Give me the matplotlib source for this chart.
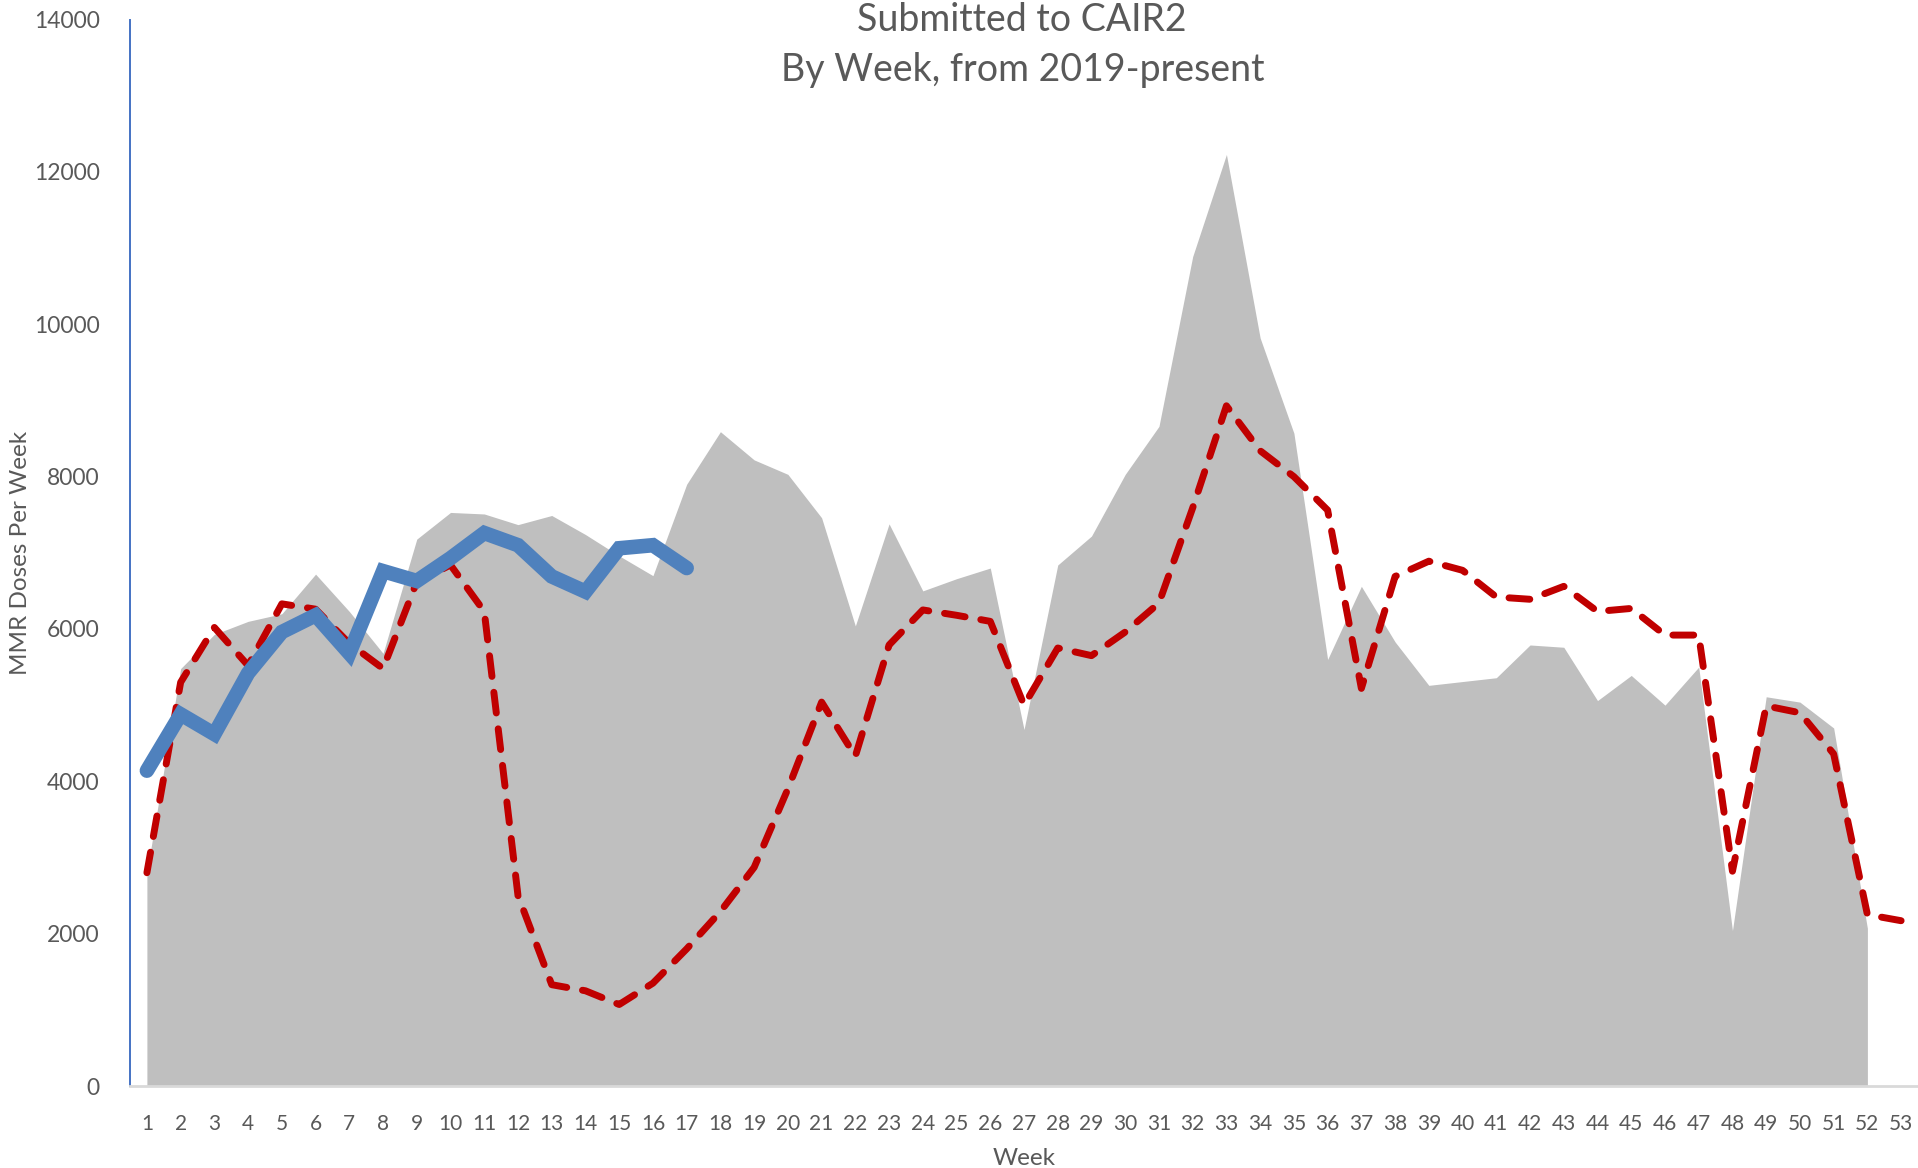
import matplotlib.pyplot as plt
import numpy as np

# weeks on the x axis
weeks = np.arange(1, 54)

# gray area series (weeks 1-52)
area_vals = [2800, 5480, 5930, 6100, 6200, 6720, 6230, 5680, 7180, 7530,
             7510, 7370, 7490, 7240, 6960, 6700, 7900, 8590, 8220, 8030,
             7460, 6040, 7380, 6500, 6660, 6800, 4680, 6840, 7220, 8030,
             8660, 10890, 12230, 9820, 8570, 5600, 6560, 5830, 5260, 5310,
             5360, 5790, 5760, 5060, 5390, 5000, 5500, 2040, 5110, 5040,
             4700, 2070]

# red dashed series (weeks 1-53)
red_vals = [2800, 5300, 6020, 5520, 6330, 6260, 5810, 5480, 6620, 6840,
            6230, 2500, 1330, 1250, 1070, 1350, 1800, 2290, 2870, 3900,
            5040, 4330, 5790, 6250, 6180, 6100, 5000, 5750, 5650, 5960,
            6340, 7590, 8930, 8340, 8000, 7560, 5220, 6690, 6890, 6770,
            6420, 6390, 6560, 6230, 6270, 5920, 5920, 2820, 4990, 4900,
            4360, 2250, 2170]

# blue series (weeks 1-17)
blue_vals = [4140, 4880, 4620, 5420, 5960, 6180, 5680, 6760, 6630, 6930,
             7260, 7100, 6690, 6490, 7060, 7100, 6800]

text_color = '#595959'
plt.rcParams['font.family'] = ['Lato', 'DejaVu Sans']

fig = plt.figure(figsize=(19.18, 11.68), dpi=100)
ax = fig.add_axes([0.0678, 0.0702, 0.9322, 0.913])

# gray filled area
ax.fill_between(weeks[:len(area_vals)], area_vals, 0, color='#BFBFBF',
                linewidth=0, zorder=1)

# red dashed line
ax.plot(weeks[:len(red_vals)], red_vals, color='#C00000', linewidth=5,
        linestyle=(0, (3.0, 2.3)), dash_capstyle='round', zorder=2)

# blue thick line
ax.plot(weeks[:len(blue_vals)], blue_vals, color='#4F81BD', linewidth=10.5,
        solid_capstyle='round', solid_joinstyle='miter', zorder=3)

ax.set_xlim(0.5, 53.5)
ax.set_ylim(0, 14000)
ax.set_xticks(weeks)
ax.set_xticklabels([str(w) for w in weeks])
ax.set_yticks(np.arange(0, 14001, 2000))

ax.tick_params(axis='x', length=0, pad=20, labelsize=15, labelcolor=text_color)
ax.tick_params(axis='y', length=0, pad=22, labelsize=16.5, labelcolor=text_color)

for side in ['top', 'right']:
    ax.spines[side].set_visible(False)
ax.spines['left'].set_color('#4472C4')
ax.spines['left'].set_linewidth(1.4)
ax.spines['bottom'].set_color('#D9D9D9')
ax.spines['bottom'].set_linewidth(2)

ax.set_xlabel('Week', fontsize=17.5, color=text_color, labelpad=10)
ax.set_ylabel('MMR Doses Per Week', fontsize=17.5, color=text_color, labelpad=2)

# title sits over the top of the plot area
fig.text(0.533, 0.983, 'Submitted to CAIR2', ha='center', va='center',
         fontsize=27, color=text_color)
fig.text(0.533, 0.940, 'By Week, from 2019-present', ha='center', va='center',
         fontsize=27, color=text_color)

plt.savefig('out.png', dpi=100)
